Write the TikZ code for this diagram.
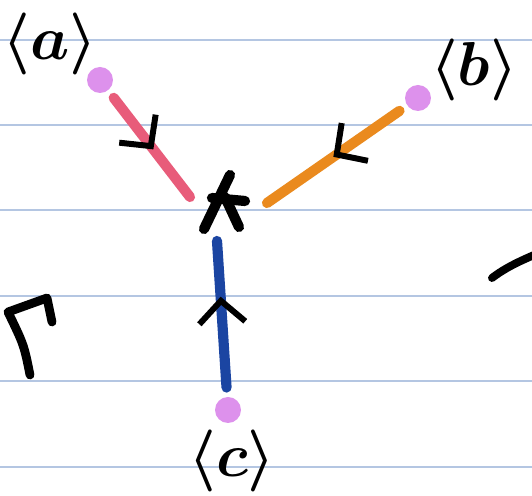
\documentclass[tikz,border=0pt]{standalone}
\definecolor{rule}{HTML}{B4C6E2}
\definecolor{dotpink}{HTML}{DD91EC}
\definecolor{rose}{HTML}{E85C7A}
\definecolor{tangerine}{HTML}{EA8A1E}
\definecolor{navy}{HTML}{1B45A2}
\usetikzlibrary{arrows.meta, decorations.markings}

\tikzset{
  dot/.style={circle, fill=dotpink, inner sep=0pt, minimum size=0.52cm, outer sep=0.19cm},
  edge/.style={line width=5.8pt, line cap=round},
  midtip/.style={postaction={decorate}, decoration={markings, mark=at position #1 with
    {\arrow{Straight Barb[length=0.44cm, width=0.92cm, line width=3.4pt, color=black]}}}},
  ink/.style={line width=4.5pt, line cap=round, line join=round},
  tag/.style={font=\Huge\boldmath, scale=1.42, transform shape},
}

\begin{document}
\begin{tikzpicture}[x=0.02cm, y=-0.02cm]
\useasboundingbox (0,0) rectangle (532,496);
\fill[white] (0,0) rectangle (532,496);

% Ruled paper
\foreach \y in {40,125,210,296,381,467}
  \draw[rule, line width=0.9pt] (0,\y) -- (532,\y);

% Endpoints
\node[dot] (a) at (100,80) {};
\node[dot] (b) at (418,98) {};
\node[dot] (c) at (228,410) {};
\node[tag] (la) at (50,44) {$\langle a\rangle$};
\node[tag] (lb) at (474,70) {$\langle b\rangle$};
\node[tag] (lc) at (232,461) {$\langle c\rangle$};

% Star in the middle
\coordinate (ea) at (190,197);
\coordinate (eb) at (267,203);
\coordinate (ec) at (217,241);
\draw[ink, line width=5.8pt] (230,175) -- (204,229);
\draw[ink, line width=5.8pt] (225,197) -- (239,227);
\draw[ink, line width=5.8pt] (212,198) -- (245,201);

% Lines into the star
\draw[edge, rose, midtip=0.52] (a) -- (ea);
\draw[edge, tangerine, midtip=0.5] (b) -- (eb);
\draw[edge, navy, midtip=0.62] (c) -- (ec);

% Bits of other strokes
\draw[ink, line width=5pt] (30,375) .. controls (24,345) .. (8,312) -- (47,298) -- (52,322);
\draw[ink] (492,278) .. controls (505,268) and (518,262) .. (534,255);

\end{tikzpicture}
\end{document}
